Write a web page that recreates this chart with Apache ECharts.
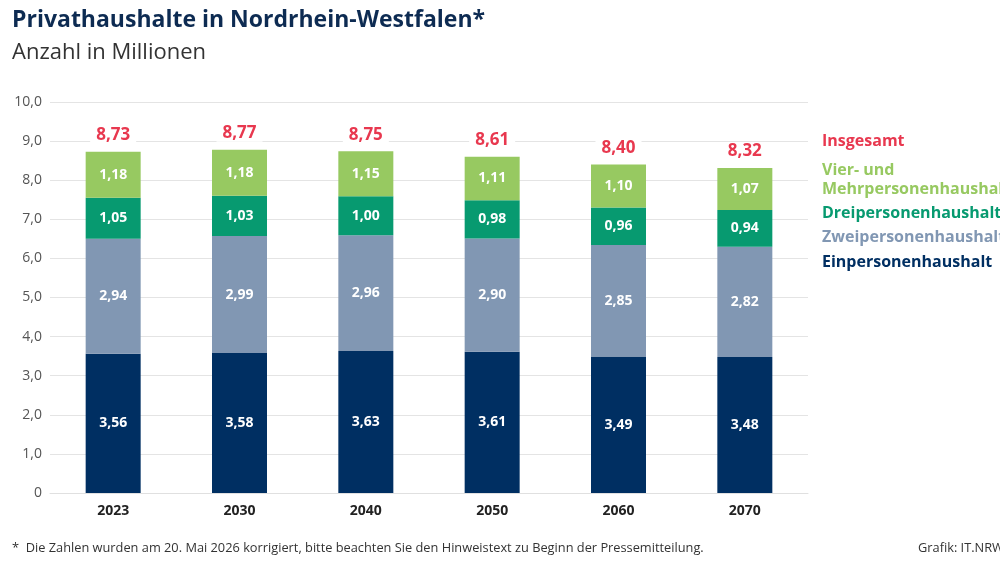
<!DOCTYPE html>
<html><head><meta charset="utf-8">
<script src="https://cdn.jsdelivr.net/npm/echarts@6/dist/echarts.min.js"></script>
<style>html,body{margin:0;padding:0;background:#fff}#c{width:1000px;height:562px}</style>
</head><body><div id="c"></div>
<script>
const categories = ['2023','2030','2040','2050','2060','2070'];
const einpersonen = [3.56,3.58,3.63,3.61,3.49,3.48];
const zweipersonen = [2.94,2.99,2.96,2.90,2.85,2.82];
const dreipersonen = [1.05,1.03,1.00,0.98,0.96,0.94];
const vierplus = [1.18,1.18,1.15,1.11,1.10,1.07];
const insgesamt = [8.73,8.77,8.75,8.61,8.40,8.32];

const fmt2 = v => v.toFixed(2).replace('.', ',');
const inLabel = {show:true, position:'inside', color:'#fff', fontFamily:'Open Sans', fontWeight:'bold', fontSize:14,
  formatter: p => fmt2(p.value)};
function ser(name, data, color, extra) {
  return Object.assign({name, type:'bar', stack:'a', data, barWidth:55,
    itemStyle:{color}, label:inLabel, emphasis:{disabled:true}}, extra||{});
}
const chart = echarts.init(document.getElementById('c'));
chart.setOption({
  animation:false,
  grid:{left:50, right:192, top:102, bottom:69},
  xAxis:{type:'category', data:categories, axisTick:{show:false},
    axisLine:{lineStyle:{color:'#e0e0e0'}},
    axisLabel:{color:'#222', fontFamily:'Open Sans', fontWeight:'bold', fontSize:14, margin:11}},
  yAxis:{type:'value', min:0, max:10, interval:1,
    axisLabel:{color:'#555', fontFamily:'Open Sans', fontSize:14, margin:8,
      formatter: v => v === 0 ? '0' : v.toFixed(1).replace('.', ',')},
    splitLine:{lineStyle:{color:'#e4e4e4'}}},
  series:[
    ser('Einpersonenhaushalt', einpersonen, '#002f62'),
    ser('Zweipersonenhaushalt', zweipersonen, '#8197b3'),
    ser('Dreipersonenhaushalt', dreipersonen, '#079a70'),
    ser('Vier- und Mehrpersonenhaushalte', vierplus, '#97c961'),
    {name:'Insgesamt', type:'bar', stack:'a', data: insgesamt.map(()=>0), barWidth:55,
      itemStyle:{color:'transparent'},
      label:{show:true, position:'top', distance:8, color:'#e8384f', fontFamily:'Open Sans', fontWeight:'bold', fontSize:17,
        backgroundColor:'#fff', padding:[0,6],
        formatter: p => fmt2(insgesamt[p.dataIndex])}}
  ],
  graphic:[
    {type:'text', left:12, top:9, style:{text:'Privathaushalte in Nordrhein-Westfalen*', fill:'#0d2b52', font:'bold 23px "Open Sans"'}},
    {type:'text', left:12, top:42, style:{text:'Anzahl in Millionen', fill:'#333', font:'22px "Open Sans"'}},
    {type:'text', left:822, top:133, style:{text:'Insgesamt', fill:'#e8384f', font:'bold 16px "Open Sans"'}},
    {type:'text', left:822, top:161, style:{text:'Vier- und\nMehrpersonenhaushalte', fill:'#97c961', font:'bold 16px "Open Sans"', lineHeight:19}},
    {type:'text', left:822, top:205, style:{text:'Dreipersonenhaushalte', fill:'#079a70', font:'bold 16px "Open Sans"'}},
    {type:'text', left:822, top:229, style:{text:'Zweipersonenhaushalte', fill:'#8197b3', font:'bold 16px "Open Sans"'}},
    {type:'text', left:822, top:254, style:{text:'Einpersonenhaushalt', fill:'#002f62', font:'bold 16px "Open Sans"'}},
    {type:'text', left:12, top:542, style:{text:'*  Die Zahlen wurden am 20. Mai 2026 korrigiert, bitte beachten Sie den Hinweistext zu Beginn der Pressemitteilung.', fill:'#333', font:'12.8px "Open Sans"'}},
    {type:'text', left:918, top:542, style:{text:'Grafik: IT.NRW', fill:'#333', font:'12.8px "Open Sans"'}}
  ]
});
</script></body></html>
